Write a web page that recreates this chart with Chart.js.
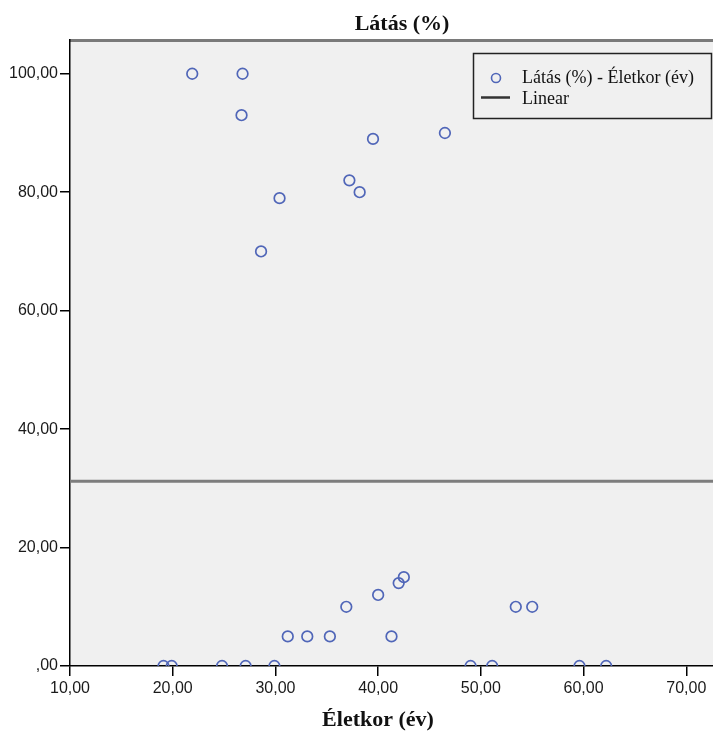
<!DOCTYPE html>
<html>
<head>
<meta charset="utf-8">
<script src="https://cdn.jsdelivr.net/npm/chart.js@4"></script>
<style>
  html, body { margin: 0; padding: 0; background: #ffffff; }
  #wrap { width: 713px; height: 731px; position: relative; }
</style>
</head>
<body>
<div id="wrap"><canvas id="c" width="713" height="731"></canvas></div>
<script>
// ---- data ----
const chartTitle = "Látás (%)";
const xTitle = "Életkor (év)";
const seriesLabel = "Látás (%) - Életkor (év)";
const fitLabel = "Linear";
const ages = [21.9, 26.8, 26.7, 39.5, 46.5, 37.2, 38.2, 30.4, 28.6,
              31.2, 33.1, 35.3, 36.9, 40.0, 42.0, 42.5, 41.3, 53.4, 55.0,
              19.1, 19.9, 24.8, 27.1, 29.9, 49.0, 51.1, 59.6, 62.2];
const vision = [100, 100, 93, 89, 90, 82, 80, 79, 70,
                5, 5, 5, 10, 12, 14, 15, 5, 10, 10,
                0, 0, 0, 0, 0, 0, 0, 0, 0];
const fitX = [10, 72.6];
const fitY = [31.2, 31.2];
const xTicks = [10, 20, 30, 40, 50, 60, 70];
const yTicks = [0, 20, 40, 60, 80, 100];
const xRange = [10, 72.6];
const yRange = [0, 105.7];

function huFmt(v) {
  const s = v.toFixed(2).replace('.', ',');
  return s.startsWith('0,') ? s.substring(1) : s;
}

const pointData = ages.map((a, i) => ({ x: a, y: vision[i] }));
const fitData = fitX.map((a, i) => ({ x: a, y: fitY[i] }));

const MARK = '#5066b8';

const decor = {
  id: 'decor',
  beforeDraw(chart) {
    const { ctx, chartArea: a } = chart;
    ctx.save();
    ctx.fillStyle = '#f0f0f0';
    ctx.fillRect(a.left, a.top, a.right - a.left, a.bottom - a.top);
    ctx.strokeStyle = '#7a7a7a';
    ctx.lineWidth = 3;
    ctx.beginPath();
    ctx.moveTo(a.left, a.top + 0.5);
    ctx.lineTo(a.right, a.top + 0.5);
    ctx.stroke();
    ctx.restore();
  },
  afterDraw(chart) {
    const { ctx } = chart;
    ctx.save();
    // title
    ctx.fillStyle = '#111';
    ctx.font = 'bold 22px "Liberation Serif"';
    ctx.textAlign = 'center';
    ctx.textBaseline = 'middle';
    ctx.fillText(chartTitle, 402, 24);
    // x title
    ctx.fillText(xTitle, 378, 720);
    // legend
    ctx.fillStyle = '#f0f0f0';
    ctx.fillRect(473, 53, 239, 66);
    ctx.strokeStyle = '#222';
    ctx.lineWidth = 1.5;
    ctx.strokeRect(473.5, 53.5, 238, 65);
    ctx.strokeStyle = MARK;
    ctx.lineWidth = 1.6;
    ctx.beginPath();
    ctx.arc(496, 78, 4.5, 0, Math.PI * 2);
    ctx.stroke();
    ctx.strokeStyle = '#333';
    ctx.lineWidth = 2.5;
    ctx.beginPath();
    ctx.moveTo(481, 97.5);
    ctx.lineTo(510, 97.5);
    ctx.stroke();
    ctx.fillStyle = '#111';
    ctx.font = '18px "Liberation Serif"';
    ctx.textAlign = 'left';
    ctx.fillText(seriesLabel, 522, 78);
    ctx.fillText(fitLabel, 522, 99);
    ctx.restore();
  }
};

function noPad(s) {
  s.paddingLeft = 0; s.paddingRight = 0; s.paddingTop = 0; s.paddingBottom = 0;
}

new Chart(document.getElementById('c'), {
  type: 'scatter',
  data: {
    datasets: [
      {
        label: seriesLabel,
        data: pointData,
        showLine: false,
        pointStyle: 'circle',
        pointRadius: 5.3,
        pointHoverRadius: 5.3,
        pointBackgroundColor: 'rgba(0,0,0,0)',
        pointBorderColor: MARK,
        pointBorderWidth: 1.7,
        clip: 0,
        order: 1
      },
      {
        label: fitLabel,
        type: 'line',
        data: fitData,
        showLine: true,
        borderColor: '#7d7d7d',
        borderWidth: 3,
        pointRadius: 0,
        fill: false,
        clip: 0,
        order: 2
      }
    ]
  },
  plugins: [decor],
  options: {
    responsive: false,
    animation: false,
    events: [],
    layout: { autoPadding: false, padding: { top: 40, left: 0, right: 0, bottom: 0 } },
    plugins: {
      legend: { display: false },
      title: { display: false },
      tooltip: { enabled: false }
    },
    scales: {
      x: {
        type: 'linear',
        position: 'bottom',
        min: xRange[0],
        max: xRange[1],
        afterBuildTicks(s) { s.ticks = xTicks.map(v => ({ value: v })); },
        afterFit(s) { s.height = 65; noPad(s); },
        grid: { display: true, drawOnChartArea: false, drawTicks: true, tickLength: 10, color: '#000', lineWidth: 1.5 },
        border: { display: true, color: '#000', width: 1.5 },
        ticks: {
          padding: 3,
          color: '#1a1a1a',
          font: { family: '"Liberation Sans"', size: 16 },
          maxRotation: 0,
          autoSkip: false,
          callback: v => huFmt(v)
        },
        title: { display: false }
      },
      y: {
        type: 'linear',
        position: 'left',
        min: yRange[0],
        max: yRange[1],
        afterBuildTicks(s) { s.ticks = yTicks.map(v => ({ value: v })); },
        afterFit(s) { s.width = 70; noPad(s); },
        grid: { display: true, drawOnChartArea: false, drawTicks: true, tickLength: 10, color: '#000', lineWidth: 1.5 },
        border: { display: true, color: '#000', width: 1.5 },
        ticks: {
          padding: 2,
          color: '#1a1a1a',
          font: { family: '"Liberation Sans"', size: 16 },
          autoSkip: false,
          callback: v => huFmt(v)
        },
        title: { display: false }
      }
    }
  }
});
</script>
</body>
</html>
